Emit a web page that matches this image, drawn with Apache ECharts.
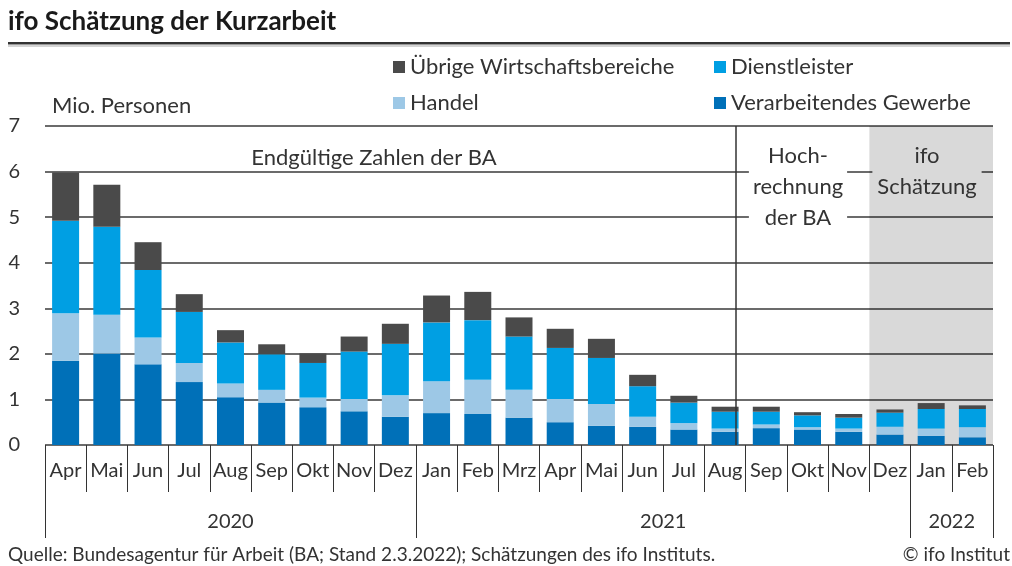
<!DOCTYPE html>
<html>
<head>
<meta charset="utf-8">
<script src="https://cdn.jsdelivr.net/npm/echarts@6/dist/echarts.min.js"></script>
<style>
  html, body { margin: 0; padding: 0; background: #fff; }
  #chart { width: 1012px; height: 566px; }
</style>
</head>
<body>
<div id="chart"></div>
<script>
// months Apr 2020 .. Feb 2022
const months = ['Apr', 'Mai', 'Jun', 'Jul', 'Aug', 'Sep', 'Okt', 'Nov', 'Dez',
  'Jan', 'Feb', 'Mrz', 'Apr', 'Mai', 'Jun', 'Jul', 'Aug', 'Sep', 'Okt', 'Nov', 'Dez',
  'Jan', 'Feb'];
const yearLabels = ['2020', '2021', '2022'];
const yearMonthCounts = [9, 12, 2];

// Mio. Personen
const verarbeitend = [1.85, 2.01, 1.77, 1.38, 1.05, 0.93, 0.83, 0.74, 0.62, 0.70, 0.68, 0.60, 0.50, 0.42, 0.40, 0.34, 0.29, 0.37, 0.34, 0.29, 0.23, 0.20, 0.17];
const handel = [1.04, 0.85, 0.59, 0.42, 0.30, 0.28, 0.21, 0.27, 0.47, 0.70, 0.75, 0.61, 0.51, 0.48, 0.22, 0.14, 0.07, 0.08, 0.05, 0.07, 0.17, 0.16, 0.22];
const dienst = [2.03, 1.93, 1.48, 1.12, 0.90, 0.78, 0.76, 1.04, 1.13, 1.29, 1.31, 1.17, 1.12, 1.01, 0.67, 0.45, 0.37, 0.28, 0.26, 0.24, 0.31, 0.43, 0.40];
const uebrige = [1.06, 0.92, 0.61, 0.39, 0.27, 0.22, 0.21, 0.33, 0.44, 0.59, 0.62, 0.42, 0.42, 0.42, 0.25, 0.15, 0.11, 0.11, 0.07, 0.08, 0.07, 0.13, 0.08];

// phases (in month positions)
const hochrechnungStart = 16.75;
const schaetzungStart = 20;

const FONT = 'Lato';
const TXT = '#333';

// year boundaries / label centers on the helper value axis
const yearBounds = [0];
yearMonthCounts.forEach(n => yearBounds.push(yearBounds[yearBounds.length - 1] + n));
const yearCenters = yearLabels.map((y, i) => (yearBounds[i] + yearBounds[i + 1]) / 2);

const myChart = echarts.init(document.getElementById('chart'));

const barSeries = (name, data, color) => ({
  name: name,
  type: 'bar',
  stack: 'total',
  barWidth: 27,
  data: data,
  z: 3,
  itemStyle: { color: color }
});

myChart.setOption({
  animation: false,
  textStyle: { fontFamily: FONT },
  grid: { left: 45, right: 19, top: 126, bottom: 121 },
  legend: {
    left: 388,
    top: 51,
    width: 640,
    icon: 'rect',
    itemWidth: 12,
    itemHeight: 12,
    itemGap: 14,
    selectedMode: false,
    textStyle: { fontSize: 22, color: TXT, width: 290, lineHeight: 22, fontFamily: FONT },
    data: ['Übrige Wirtschaftsbereiche', 'Dienstleister', 'Handel', 'Verarbeitendes Gewerbe']
  },
  xAxis: [
    {
      type: 'category',
      data: months,
      axisLine: { show: false },
      axisTick: { show: true, interval: 0, length: 47, lineStyle: { color: TXT, width: 1 } },
      axisLabel: { interval: 0, margin: 16, fontSize: 20, color: TXT, fontFamily: FONT }
    },
    {
      type: 'value',
      position: 'bottom',
      min: 0,
      max: months.length,
      axisLine: { show: false },
      splitLine: { show: false },
      axisTick: { show: true, customValues: yearBounds, length: 93, lineStyle: { color: TXT, width: 1 } },
      axisLabel: {
        customValues: yearCenters,
        margin: 67,
        fontSize: 20,
        color: TXT,
        fontFamily: FONT,
        formatter: v => yearLabels[yearCenters.indexOf(v)]
      }
    }
  ],
  yAxis: {
    type: 'value',
    min: 0,
    max: 7,
    interval: 1,
    axisLine: { show: false },
    axisTick: { show: false },
    axisLabel: { margin: 25, fontSize: 20, color: TXT, fontFamily: FONT },
    splitLine: { lineStyle: { color: '#3a3a3a', width: 1.5 } }
  },
  series: [
    barSeries('Verarbeitendes Gewerbe', verarbeitend, '#0070b8'),
    barSeries('Handel', handel, '#9dc8e6'),
    barSeries('Dienstleister', dienst, '#009fe3'),
    barSeries('Übrige Wirtschaftsbereiche', uebrige, '#4a4a4a'),
    {
      name: 'schaetzung',
      type: 'line',
      xAxisIndex: 1,
      data: [],
      z: 1,
      silent: true,
      markArea: {
        silent: true,
        itemStyle: { color: 'rgba(0,0,0,0.15)' },
        data: [[{ xAxis: schaetzungStart }, { xAxis: months.length }]]
      }
    },
    {
      name: 'phase',
      type: 'line',
      xAxisIndex: 1,
      data: [],
      z: 5,
      silent: true,
      markLine: {
        silent: true,
        symbol: 'none',
        label: { show: false },
        lineStyle: { color: '#333', width: 1.5, type: 'solid' },
        data: [{ xAxis: hochrechnungStart }]
      }
    }
  ],
  graphic: [
    {
      type: 'text', x: 8, y: 22,
      style: { text: 'ifo Schätzung der Kurzarbeit', font: 'bold 26px Lato', fill: '#1a1a1a', verticalAlign: 'middle' }
    },
    { type: 'rect', shape: { x: 8, y: 42, width: 1002, height: 2.5 }, style: { fill: '#333' } },
    { type: 'rect', shape: { x: 8, y: 45.5, width: 1002, height: 1 }, style: { fill: '#aaa' } },
    {
      type: 'text', x: 52, y: 106,
      style: { text: 'Mio. Personen', font: '22px Lato', fill: TXT, verticalAlign: 'middle' }
    },
    {
      type: 'text', x: 374, y: 158, z: 10,
      style: { text: 'Endgültige Zahlen der BA', font: '22px Lato', fill: TXT, align: 'center', verticalAlign: 'middle' }
    },
    {
      type: 'text', x: 798, y: 187, z: 10,
      style: {
        text: 'Hoch-\nrechnung\nder BA', font: '22px Lato', fill: TXT, align: 'center', verticalAlign: 'middle',
        lineHeight: 31, backgroundColor: '#fff', padding: [0, 4]
      }
    },
    {
      type: 'text', x: 927, y: 171, z: 10,
      style: {
        text: 'ifo\nSchätzung', font: '22px Lato', fill: TXT, align: 'center', verticalAlign: 'middle',
        lineHeight: 31, backgroundColor: '#d9d9d9', padding: [0, 5]
      }
    },
    {
      type: 'text', x: 8, y: 555,
      style: { text: 'Quelle: Bundesagentur für Arbeit (BA; Stand 2.3.2022); Schätzungen des ifo Instituts.', font: '19px Lato', fill: TXT, verticalAlign: 'middle' }
    },
    {
      type: 'text', x: 1010, y: 555,
      style: { text: '© ifo Institut', font: '19px Lato', fill: TXT, align: 'right', verticalAlign: 'middle' }
    }
  ]
});
</script>
</body>
</html>
